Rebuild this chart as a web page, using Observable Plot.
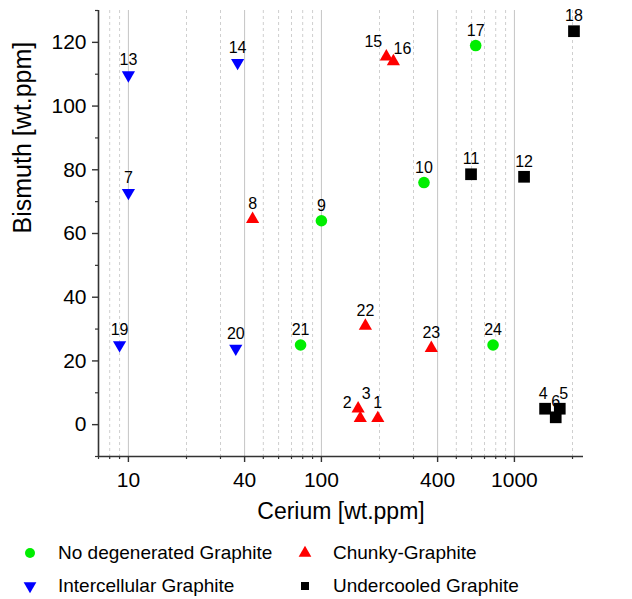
<!DOCTYPE html>
<html><head><meta charset="utf-8">
<script src="https://cdn.jsdelivr.net/npm/d3@7"></script>
<script src="https://cdn.jsdelivr.net/npm/@observablehq/plot@0.6"></script>
<style>
body{margin:0;background:#fff;font-family:"Liberation Sans",Arial,sans-serif;}
#wrap{position:relative;width:632px;height:599px;overflow:hidden;}
.leg{position:absolute;font-size:19px;color:#000;white-space:nowrap;line-height:19px;}
.legsym{position:absolute;}
</style></head><body><div id="wrap"></div>
<script>
// ---- data ----
const seriesNames = ["No degenerated Graphite","Chunky-Graphite","Intercellular Graphite","Undercooled Graphite"];
const seriesColors = ["#00ee00","#ff0000","#0000ff","#000000"];

const noDegId = [9, 10, 17, 21, 24];
const noDegCe = [100, 340, 630, 78, 775];
const noDegBi = [64, 76, 119, 25, 25];

const chunkyId = [1, 2, 3, 8, 15, 16, 22, 23];
const chunkyCe = [196, 159, 155, 44, 217, 236, 169, 371];
const chunkyBi = [2, 2, 5, 64.5, 115.5, 114, 31, 24];

const interId = [7, 13, 14, 19, 20];
const interCe = [10, 10, 36.8, 9, 36];
const interBi = [72.8, 109.7, 113.6, 25, 23.9];

const underId = [4, 5, 6, 11, 12, 18];
const underCe = [1442, 1718, 1637, 596, 1122, 2035];
const underBi = [5, 5, 2.3, 78.6, 77.8, 123.5];

const xDomain = [7, 2280];
const yDomain = [-10, 130];
const xMajor = [10, 40, 100, 400, 1000];
const xMinor = [7, 8, 9, 20, 30, 50, 60, 70, 80, 90, 200, 300, 500, 600, 700, 800, 900, 2000];
const yMajor = [0, 20, 40, 60, 80, 100, 120];
const yMinor = [-10, 10, 30, 50, 70, 90, 110, 130];
const xTitle = "Cerium [wt.ppm]";
const yTitle = "Bismuth [wt.ppm]";

// label nudges (for overlapping labels)
const labelNudge = {2: [-13, 0], 3: [8, 0], 15: [-13, 0], 16: [9, 2], 4: [-2, 0], 5: [4, 0]};

const rows = (ids, ce, bi) => ids.map((id, i) => ({id, ce: ce[i], bi: bi[i]}));
const noDeg = rows(noDegId, noDegCe, noDegBi);
const chunky = rows(chunkyId, chunkyCe, chunkyBi);
const inter = rows(interId, interCe, interBi);
const under = rows(underId, underCe, underBi);
const all = [...noDeg, ...chunky, ...inter, ...under];

const triangleDown = {
  draw(context, size) {
    const s3 = Math.sqrt(3);
    const y = -Math.sqrt(size / (s3 * 3));
    context.moveTo(0, -y * 2);
    context.lineTo(-s3 * y, y);
    context.lineTo(s3 * y, y);
    context.closePath();
  }
};

const font = '"Liberation Sans", Arial, sans-serif';
const axisColor = "#333";

const labelMarks = [];
labelMarks.push(Plot.text(all.filter(d => !(d.id in labelNudge)), {
  x: "ce", y: "bi", text: d => String(d.id), dy: -15, fontSize: 16, fill: "#000", lineAnchor: "middle"
}));
for (const [id, [dx, dy]] of Object.entries(labelNudge)) {
  labelMarks.push(Plot.text(all.filter(d => d.id === +id), {
    x: "ce", y: "bi", text: d => String(d.id), dx, dy: -15 + dy, fontSize: 16, fill: "#000", lineAnchor: "middle"
  }));
}

const chart = Plot.plot({
  width: 632, height: 530,
  marginLeft: 98, marginRight: 49, marginTop: 10, marginBottom: 74,
  x: {type: "log", domain: xDomain, label: null},
  y: {domain: yDomain, label: null},
  style: {fontFamily: font, background: "#fff", color: "#000"},
  marks: [
    Plot.gridX(xMinor, {stroke: "#cfcfcf", strokeOpacity: 1, strokeDasharray: "3,3", strokeWidth: 1}),
    Plot.gridX(xMajor, {stroke: "#c4c4c4", strokeOpacity: 1, strokeWidth: 1}),
    Plot.ruleX([xDomain[0]], {stroke: axisColor, strokeWidth: 1.6}),
    Plot.ruleY([yDomain[0]], {stroke: axisColor, strokeWidth: 1.6}),
    Plot.axisX(xMajor, {tickSize: 6, tickFormat: () => "", stroke: axisColor, strokeWidth: 1.4, label: null}),
    Plot.text(xMajor, {x: d => d, text: d => String(d), frameAnchor: "bottom", dy: 24, fontSize: 21, fill: "#000", lineAnchor: "middle"}),
    Plot.axisX(xMinor, {tickSize: 3, tickFormat: () => "", stroke: axisColor, strokeWidth: 1.2, label: null}),
    Plot.axisY(yMajor, {tickSize: 6, tickPadding: 6, tickFormat: d => String(d), fontSize: 21, stroke: axisColor, strokeWidth: 1.4, label: null}),
    Plot.axisY(yMinor, {tickSize: 3, tickFormat: () => "", stroke: axisColor, strokeWidth: 1.2, label: null}),
    Plot.text([xTitle], {frameAnchor: "bottom", dy: 55, fontSize: 23, fill: "#000", lineAnchor: "middle"}),
    Plot.text([yTitle], {frameAnchor: "left", dx: -76, rotate: -90, fontSize: 25, fill: "#000", lineAnchor: "middle"}),
    Plot.dot(noDeg, {x: "ce", y: "bi", symbol: "circle", r: 5.8, fill: seriesColors[0], stroke: "none"}),
    Plot.dot(chunky, {x: "ce", y: "bi", symbol: "triangle", r: 4.9, fill: seriesColors[1], stroke: "none"}),
    Plot.dot(inter, {x: "ce", y: "bi", symbol: triangleDown, r: 4.9, fill: seriesColors[2], stroke: "none"}),
    Plot.dot(under, {x: "ce", y: "bi", symbol: "square", r: 6.6, fill: seriesColors[3], stroke: "none"}),
    ...labelMarks
  ]
});

const wrap = document.getElementById("wrap");
wrap.appendChild(chart);

// legend below the chart
const legendSymbols = [d3.symbolCircle, d3.symbolTriangle, triangleDown, d3.symbolSquare];
const legendSizes = [78, 70, 70, 64];
const legendPos = [[30, 553], [305, 553], [30, 586], [305, 586]];
seriesNames.forEach((name, i) => {
  const [cx, cy] = legendPos[i];
  const svg = d3.create("svg").attr("class", "legsym").attr("width", 16).attr("height", 16)
    .style("left", (cx - 8) + "px").style("top", (cy - 8) + "px");
  svg.append("path").attr("transform", "translate(8,8)")
    .attr("d", d3.symbol(legendSymbols[i], legendSizes[i])()).attr("fill", seriesColors[i]);
  wrap.appendChild(svg.node());
  const t = document.createElement("div");
  t.className = "leg";
  t.textContent = name;
  t.style.left = (cx + 28) + "px";
  t.style.top = (cy - 10) + "px";
  wrap.appendChild(t);
});
</script></body></html>
